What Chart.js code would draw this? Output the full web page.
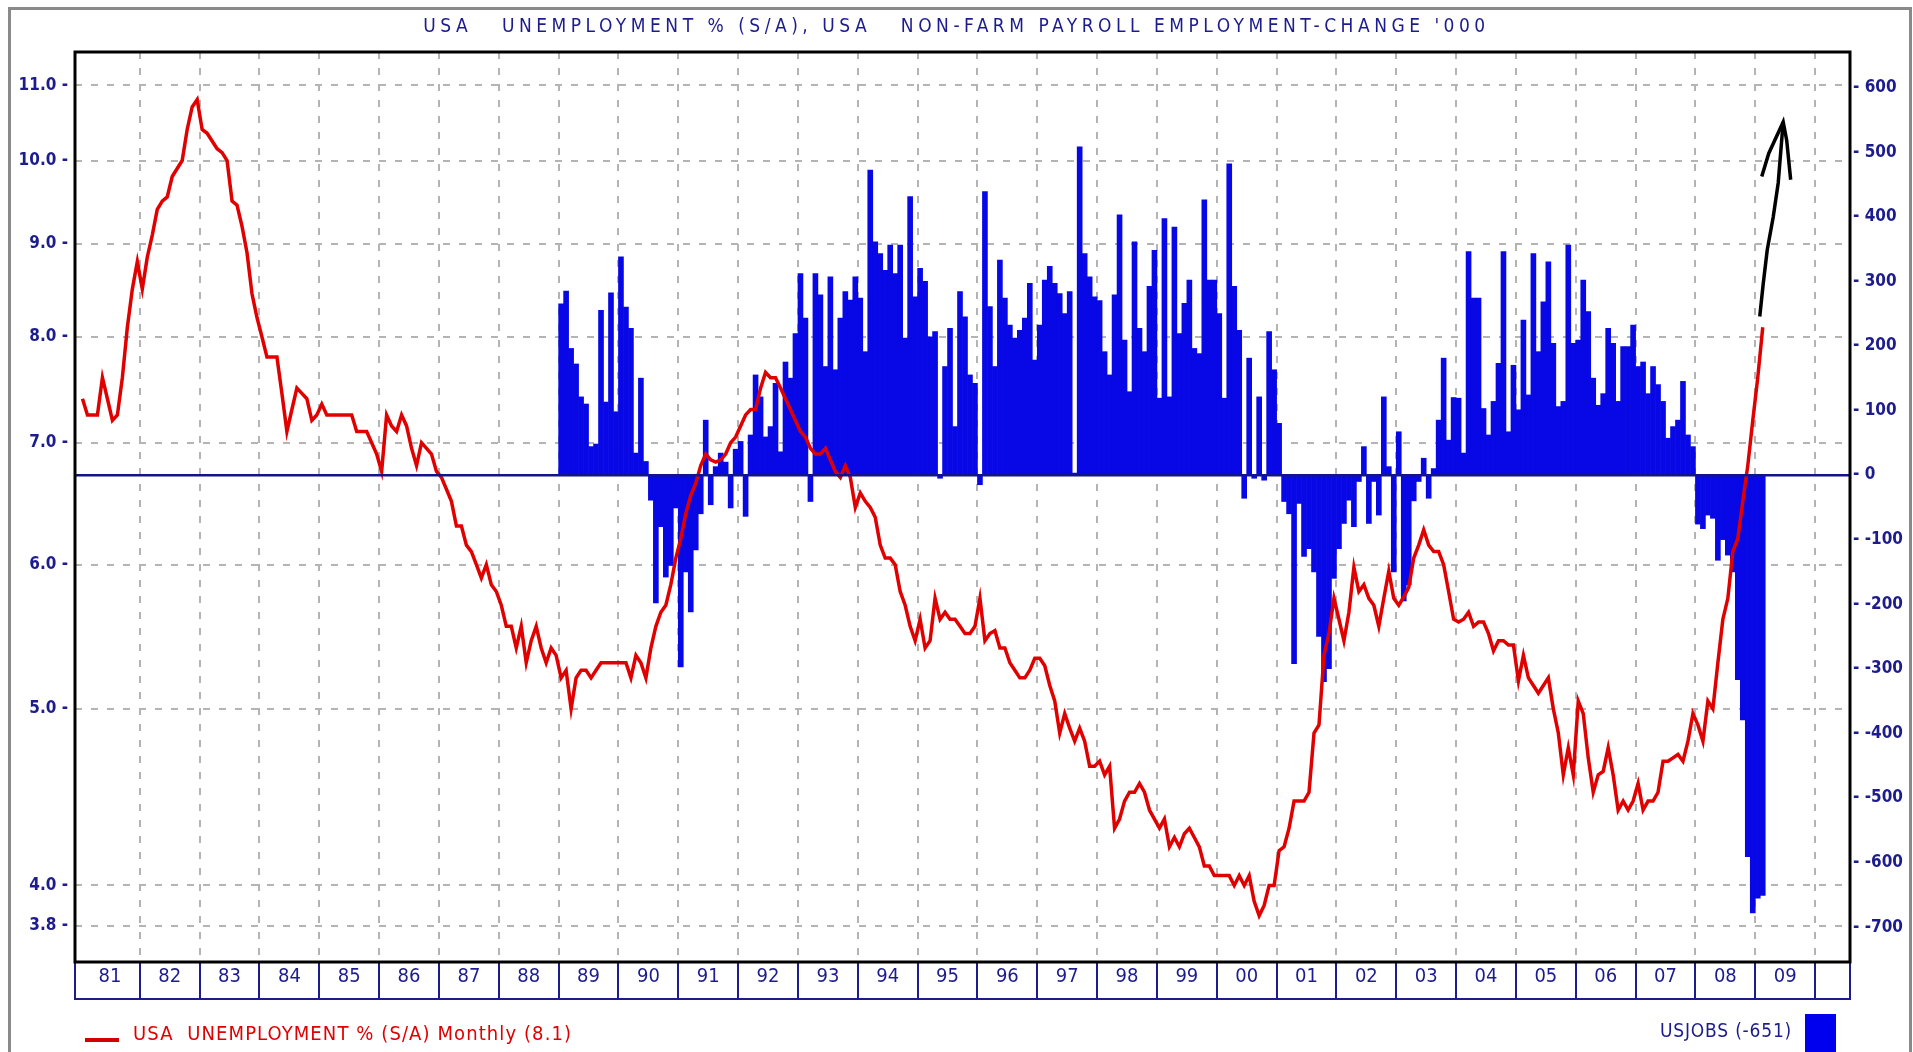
<!DOCTYPE html>
<html>
<head>
<meta charset="utf-8">
<title>USA unemployment and non-farm payrolls</title>
<script src="https://cdn.jsdelivr.net/npm/chart.js@4.4.1/dist/chart.umd.min.js"></script>
<style>
  html, body { margin: 0; padding: 0; background: #fff; }
  #wrap { position: relative; width: 1913px; height: 1052px; overflow: hidden; }
  #border { position: absolute; left: 8px; top: 7px; width: 1898px; height: 1100px; border: 3px solid #8a8a8a; }
  #cvr { position: absolute; left: 0; top: 0; }
  .txt { position: absolute; white-space: pre; font-family: 'DejaVu Sans Condensed', 'DejaVu Sans', sans-serif; }
  #title { left: 0; width: 1913px; top: 14px; text-align: center; font-size: 19px; letter-spacing: 4.5px; color: #1c1c8e; }
  #legL { left: 133px; top: 1021px; font-size: 20px; letter-spacing: 1.1px; color: #e00000; }
  #legLmark { position: absolute; left: 85px; top: 1038px; width: 34px; height: 4px; background: #d40000; }
  #legR { left: 1660px; top: 1019px; font-size: 19px; letter-spacing: 0.8px; color: #1c1c8e; }
  #legRbox { position: absolute; left: 1805px; top: 1014px; width: 31px; height: 45px; background: #0000ee; }
</style>
</head>
<body>
<div id="wrap">
  <div id="border"></div>
  <canvas id="cvr" width="1913" height="1052"></canvas>
  <div id="title" class="txt"></div>
  <div id="legLmark"></div>
  <div id="legL" class="txt"></div>
  <div id="legR" class="txt"></div>
  <div id="legRbox"></div>
</div>
<script>
(function () {
  'use strict';

  // --- Data ---
  // monthly, from Jan 1981 (month index 0)
  var unemployment = [
    7.4, 7.25, 7.25, 7.25, 7.6, 7.4, 7.2, 7.25, 7.6, 8.1, 8.5, 8.8,          // 81
    8.5, 8.85, 9.1, 9.4, 9.5, 9.55, 9.8, 9.9, 10.0, 10.4, 10.7, 10.8,        // 82
    10.4, 10.35, 10.25, 10.15, 10.1, 10.0, 9.5, 9.45, 9.2, 8.9, 8.45, 8.2,   // 83
    8.0, 7.8, 7.8, 7.8, 7.45, 7.1, 7.3, 7.5, 7.45, 7.4, 7.2, 7.25,           // 84
    7.35, 7.25, 7.25, 7.25, 7.25, 7.25, 7.25, 7.1, 7.1, 7.1, 7.0, 6.9,       // 85
    6.75, 7.25, 7.15, 7.1, 7.25, 7.15, 6.95, 6.8, 7.0, 6.95, 6.9, 6.75,      // 86
    6.7, 6.6, 6.5, 6.3, 6.3, 6.15, 6.1, 6.0, 5.9, 6.0, 5.85, 5.8,            // 87
    5.7, 5.55, 5.55, 5.4, 5.55, 5.3, 5.45, 5.55, 5.4, 5.3, 5.4, 5.35,        // 88
    5.2, 5.25, 5.0, 5.2, 5.25, 5.25, 5.2, 5.25, 5.3, 5.3, 5.3, 5.3,          // 89
    5.3, 5.3, 5.2, 5.35, 5.3, 5.2, 5.4, 5.55, 5.65, 5.7, 5.85, 6.05,         // 90
    6.2, 6.4, 6.55, 6.65, 6.8, 6.9, 6.85, 6.83, 6.85, 6.9, 7.0, 7.05,        // 91
    7.15, 7.25, 7.3, 7.3, 7.5, 7.65, 7.6, 7.6, 7.5, 7.4, 7.3, 7.2,           // 92
    7.1, 7.05, 6.95, 6.9, 6.9, 6.95, 6.85, 6.75, 6.7, 6.8, 6.7, 6.45,        // 93
    6.57, 6.5, 6.45, 6.37, 6.15, 6.05, 6.05, 6.0, 5.8, 5.7, 5.55, 5.45,      // 94
    5.6, 5.4, 5.45, 5.75, 5.6, 5.65, 5.6, 5.6, 5.55, 5.5, 5.5, 5.55,         // 95
    5.75, 5.45, 5.5, 5.52, 5.4, 5.4, 5.3, 5.25, 5.2, 5.2, 5.25, 5.33,        // 96
    5.33, 5.28, 5.15, 5.05, 4.85, 4.97, 4.88, 4.8, 4.88, 4.8, 4.65, 4.65,    // 97
    4.68, 4.6, 4.65, 4.3, 4.35, 4.45, 4.5, 4.5, 4.55, 4.5, 4.4, 4.35,        // 98
    4.3, 4.35, 4.2, 4.25, 4.2, 4.27, 4.3, 4.25, 4.2, 4.1, 4.1, 4.05,         // 99
    4.05, 4.05, 4.05, 4.0, 4.05, 4.0, 4.05, 3.92, 3.85, 3.9, 4.0, 4.0,       // 00
    4.18, 4.2, 4.3, 4.45, 4.45, 4.45, 4.5, 4.85, 4.9, 5.35, 5.5, 5.75,       // 01
    5.6, 5.45, 5.65, 5.98, 5.8, 5.85, 5.75, 5.7, 5.55, 5.75, 5.95, 5.75,     // 02
    5.7, 5.76, 5.83, 6.05, 6.15, 6.27, 6.15, 6.1, 6.1, 6.0, 5.8, 5.6,        // 03
    5.58, 5.6, 5.65, 5.55, 5.58, 5.58, 5.5, 5.38, 5.45, 5.45, 5.42, 5.42,    // 04
    5.18, 5.35, 5.2, 5.15, 5.1, 5.15, 5.2, 5.0, 4.85, 4.6, 4.76, 4.6,        // 05
    5.05, 4.97, 4.7, 4.5, 4.6, 4.62, 4.76, 4.6, 4.4, 4.45, 4.4, 4.45,        // 06
    4.55, 4.4, 4.45, 4.45, 4.5, 4.68, 4.68, 4.7, 4.72, 4.68, 4.8, 4.97,      // 07
    4.9, 4.8, 5.05, 5.0, 5.3, 5.6, 5.75, 6.1, 6.2, 6.5, 6.8, 7.2,            // 08
    7.6, 8.1                                                                 // 09
  ];

  var payrollStart = 96; // Jan 1989
  var payrollChange = [
    265, 285, 196, 172, 121, 110, 44, 48, 255, 113, 282, 98,                 // 89
    338, 260, 227, 34, 150, 21, -39, -198, -80, -158, -140, -51,             // 90
    -297, -150, -212, -116, -60, 85, -46, 13, 34, 20, -51, 40,               // 91
    52, -64, 62, 155, 121, 59, 75, 142, 36, 175, 150, 219,                   // 92
    312, 243, -41, 312, 279, 168, 307, 163, 243, 284, 271, 307,              // 93
    274, 191, 472, 361, 343, 317, 356, 312, 356, 212, 431, 276,              // 94
    320, 300, 214, 222, -5, 168, 227, 75, 284, 245, 155, 142,                // 95
    -15, 439, 261, 168, 333, 274, 232, 212, 224, 243, 297, 178,              // 96
    232, 302, 323, 297, 281, 250, 284, 3, 508, 343, 307, 276,                // 97
    270, 191, 155, 279, 403, 209, 129, 361, 227, 191, 292, 348,              // 98
    119, 397, 121, 384, 219, 266, 302, 196, 188, 426, 302, 302,              // 99
    250, 119, 482, 292, 224, -36, 181, -5, 121, -8, 222, 163,                // 00
    80, -41, -60, -292, -44, -126, -114, -150, -250, -320, -300, -160,       // 01
    -114, -75, -39, -80, -10, 44, -75, -10, -62, 121, 13, -150,              // 02
    67, -195, -170, -40, -10, 26, -36, 10, 85, 181, 54, 120,                 // 03
    119, 34, 346, 274, 274, 103, 62, 114, 173, 346, 67, 170,                 // 04
    101, 240, 124, 343, 191, 268, 330, 204, 106, 114, 356, 204,              // 05
    209, 302, 253, 150, 108, 126, 227, 204, 114, 199, 199, 232,              // 06
    168, 175, 126, 168, 140, 114, 57, 75, 85, 145, 62, 44,                   // 07
    -76, -83, -62, -67, -132, -100, -124, -150, -317, -379, -591, -678,      // 08
    -655, -651                                                               // 09
  ];

  var yearLabels = ['81', '82', '83', '84', '85', '86', '87', '88', '89', '90',
    '91', '92', '93', '94', '95', '96', '97', '98', '99', '00',
    '01', '02', '03', '04', '05', '06', '07', '08', '09'];
  var leftTicks = [3.8, 4, 5, 6, 7, 8, 9, 10, 11];
  var rightTicks = [-700, -600, -500, -400, -300, -200, -100, 0, 100, 200, 300, 400, 500, 600];

  // hand-drawn arrow (month index, % unemployment)
  var arrowShaft = [[336.9, 8.21], [337.6, 8.56], [338.4, 8.93], [339.6, 9.31], [340.6, 9.72], [341.6, 10.5]];
  var arrowHead = [[337.3, 9.8], [338.7, 10.09], [341.6, 10.5], [342.3, 10.26], [343.1, 9.76]];

  var NAVY = '#1c1c8e';
  var GRID = '#b4b4b4';
  var CLEAR = 'rgba(0,0,0,0)';
  var COND = "'DejaVu Sans Condensed', 'DejaVu Sans', sans-serif";

  // --- Texts ---
  var lastRate = unemployment[unemployment.length - 1];
  var lastJobs = payrollChange[payrollChange.length - 1];
  document.getElementById('title').textContent =
    "USA   UNEMPLOYMENT % (S/A), USA   NON-FARM PAYROLL EMPLOYMENT-CHANGE '000";
  document.getElementById('legL').textContent =
    'USA  UNEMPLOYMENT % (S/A) Monthly (' + lastRate.toFixed(1) + ')';
  document.getElementById('legR').textContent = 'USJOBS (' + lastJobs + ')';

  function toPoints(arr, start) {
    return arr.map(function (v, i) { return { x: start + i + 0.5, y: v }; });
  }
  function pairs(arr) {
    return arr.map(function (p) { return { x: p[0], y: p[1] }; });
  }

  var xTicks = [];
  for (var i = 1; i <= yearLabels.length; i++) xTicks.push(i * 12);
  for (var j = 0; j < yearLabels.length; j++) xTicks.push(j * 12 + 6);

  var framePlugin = {
    id: 'frame',
    afterDraw: function (chart) {
      var ctx = chart.ctx, a = chart.chartArea;
      ctx.save();
      ctx.strokeStyle = NAVY;
      ctx.lineWidth = 2;
      ctx.strokeRect(a.left, a.bottom, a.right - a.left, 37);
      ctx.strokeStyle = '#000';
      ctx.lineWidth = 3;
      ctx.strokeRect(a.left, a.top, a.right - a.left, a.bottom - a.top);
      ctx.restore();
    }
  };

  new Chart(document.getElementById('cvr'), {
    type: 'bar',
    data: {
      datasets: [
        {
          type: 'line',
          label: 'arrow',
          data: pairs(arrowShaft),
          yAxisID: 'y',
          borderColor: '#000',
          borderWidth: 3.5,
          pointRadius: 0,
          order: 0
        },
        {
          type: 'line',
          label: 'arrow head',
          data: pairs(arrowHead),
          yAxisID: 'y',
          borderColor: '#000',
          borderWidth: 3.5,
          pointRadius: 0,
          order: 0
        },
        {
          type: 'line',
          label: 'USA UNEMPLOYMENT % (S/A)',
          data: toPoints(unemployment, 0),
          yAxisID: 'y',
          borderColor: '#e00000',
          borderWidth: 3.5,
          pointRadius: 0,
          tension: 0,
          order: 1
        },
        {
          type: 'bar',
          label: 'USJOBS',
          data: toPoints(payrollChange, payrollStart),
          yAxisID: 'y2',
          backgroundColor: '#0808e6',
          borderWidth: 0,
          barPercentage: 1,
          categoryPercentage: 1,
          order: 2
        }
      ]
    },
    options: {
      responsive: false,
      devicePixelRatio: 1,
      animation: false,
      layout: { padding: { top: 52, left: 0, right: 0, bottom: 0 } },
      plugins: { legend: { display: false }, tooltip: { enabled: false } },
      scales: {
        x: {
          type: 'linear',
          position: 'bottom',
          min: -1,
          max: 355,
          offset: false,
          afterBuildTicks: function (s) {
            s.ticks = xTicks.map(function (v) { return { value: v }; });
          },
          afterFit: function (s) { s.height = 90; },
          ticks: {
            autoSkip: false,
            maxRotation: 0,
            minRotation: 0,
            padding: -34,
            color: NAVY,
            font: { family: COND, size: 20 },
            callback: function (v) {
              return v % 12 === 6 ? yearLabels[(v - 6) / 12] : '';
            }
          },
          grid: {
            offset: false,
            lineWidth: 2,
            color: function (c) { return c.tick && c.tick.value % 12 === 0 ? GRID : CLEAR; },
            drawTicks: true,
            tickLength: 37,
            tickWidth: 2,
            tickColor: function (c) { return c.tick && c.tick.value % 12 === 0 ? NAVY : CLEAR; }
          },
          border: { display: false, dash: [7, 9] }
        },
        y: {
          type: 'logarithmic',
          position: 'left',
          min: 3.631,
          max: 11.47,
          afterBuildTicks: function (s) {
            s.ticks = leftTicks.map(function (v) { return { value: v }; });
          },
          afterFit: function (s) { s.width = 75; },
          ticks: {
            autoSkip: false,
            padding: 7,
            color: NAVY,
            font: { family: COND, size: 17, weight: 'bold' },
            callback: function (v) { return Number(v).toFixed(1) + ' -'; }
          },
          grid: { color: GRID, lineWidth: 2, drawTicks: false },
          border: { display: false, dash: [7, 9] }
        },
        y2: {
          type: 'linear',
          position: 'right',
          min: -754,
          max: 655,
          afterBuildTicks: function (s) {
            s.ticks = rightTicks.map(function (v) { return { value: v }; });
          },
          afterFit: function (s) { s.width = 63; },
          ticks: {
            autoSkip: false,
            padding: 3,
            color: NAVY,
            font: { family: COND, size: 17, weight: 'bold' },
            callback: function (v) { return '- ' + v; }
          },
          grid: {
            z: 1,
            lineWidth: 2.5,
            drawTicks: false,
            color: function (c) { return c.tick && c.tick.value === 0 ? '#14148a' : CLEAR; }
          },
          border: { display: false, dash: [] }
        }
      }
    },
    plugins: [framePlugin]
  });
})();
</script>
</body>
</html>
